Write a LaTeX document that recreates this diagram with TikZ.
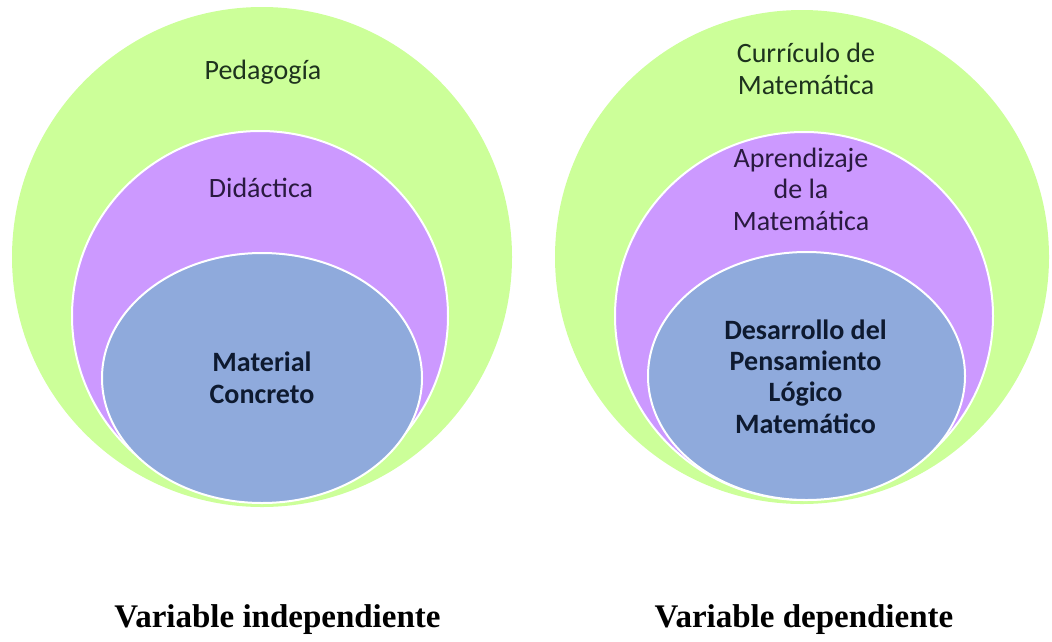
\documentclass[tikz,border=0pt]{standalone}
\usepackage{fontspec}
\setmainfont{Carlito}
\newfontfamily\labfont{Liberation Serif}
\definecolor{cgreen}{HTML}{CCFF99}
\definecolor{cpurple}{HTML}{CC99FF}
\definecolor{cblue}{HTML}{8FAADC}
\definecolor{tgreen}{HTML}{1E331E}
\definecolor{tpurple}{HTML}{2A1A40}
\definecolor{tblue}{HTML}{0E1A30}
\begin{document}
\begin{tikzpicture}[x=1pt,y=-1pt,
  outer/.style={fill=cgreen},
  middle/.style={fill=cpurple,draw=white,line width=2pt},
  inner/.style={fill=cblue,draw=white,line width=2pt},
  txt/.style={inner sep=0pt,align=center,anchor=base,font=\fontsize{28}{31.3}\selectfont},
  btxt/.style={txt,font=\fontsize{28}{31.3}\selectfont\bfseries,text=tblue},
  lab/.style={inner sep=0pt,anchor=base,font=\labfont\bfseries\fontsize{33}{38}\selectfont}]
\useasboundingbox (0,0) rectangle (1052,641);
% left set
\fill[outer] (262,257) circle [radius=250];
\draw[middle] (260,316) ellipse [x radius=188, y radius=185];
\draw[inner] (262,378) ellipse [x radius=160, y radius=125];
\node[txt,text=tgreen] (ped) at (263,79) {Pedagogía};
\node[txt,text=tpurple] (did) at (261,197) {Didáctica};
\node[btxt] (mat) at (262,403) {Material\\Concreto};
% right set
\fill[outer] (802,257) circle [radius=247];
\draw[middle] (804,316) ellipse [x radius=189, y radius=184];
\draw[inner] (806.5,376) ellipse [x radius=158.5, y radius=124];
\node[txt,text=tgreen] (cur) at (806,94) {Currículo de\\Matemática};
\node[txt,text=tpurple] (apr) at (801,230) {Aprendizaje\\de la\\Matemática};
\node[btxt] (des) at (805.5,433) {Desarrollo del\\Pensamiento\\Lógico\\Matemático};
% labels
\node[lab] (vi) at (277.5,627) {Variable independiente};
\node[lab] (vd) at (804,627) {Variable dependiente};
\end{tikzpicture}
\end{document}
